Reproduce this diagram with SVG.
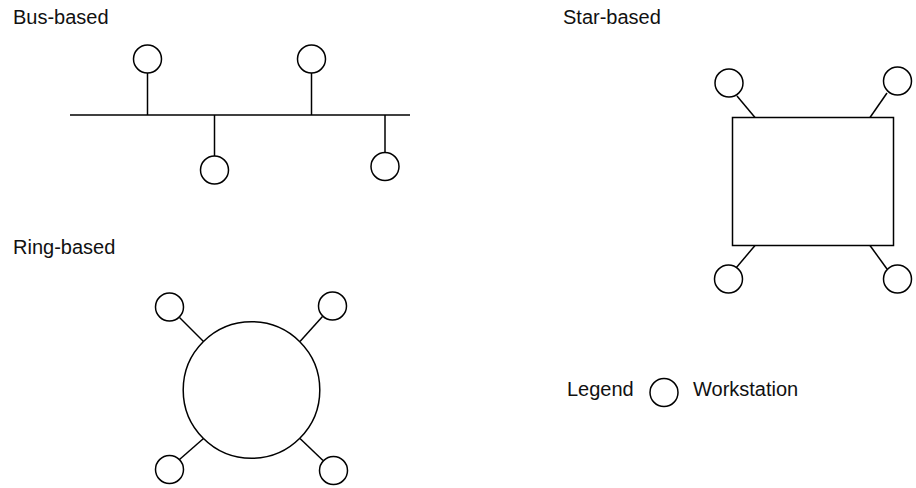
<svg xmlns="http://www.w3.org/2000/svg" width="916" height="488" viewBox="0 0 916 488">
<style>
.s{fill:none;stroke:#000;stroke-width:1.5}
.n{fill:#fff;stroke:#000;stroke-width:1.5}
.t{font-family:"Liberation Sans",Arial,sans-serif;font-size:20px;fill:#111}
</style>
<rect width="916" height="488" fill="#fff"/>
<g id="labels">
<text class="t" x="13" y="24">Bus-based</text>
<text class="t" x="13" y="254">Ring-based</text>
<text class="t" x="563" y="24">Star-based</text>
</g>
<g id="connectors">
<line class="s" x1="70" y1="115" x2="410" y2="115"/>
<line class="s" x1="147.5" y1="73" x2="147.5" y2="115"/>
<line class="s" x1="311.5" y1="73" x2="311.5" y2="115"/>
<line class="s" x1="214.5" y1="115" x2="214.5" y2="156"/>
<line class="s" x1="385" y1="115" x2="385" y2="152.5"/>
<line class="s" x1="179.5" y1="317.5" x2="203.5" y2="341.5"/>
<line class="s" x1="322.5" y1="316.5" x2="300" y2="341.5"/>
<line class="s" x1="179.5" y1="459.5" x2="203.5" y2="438.5"/>
<line class="s" x1="323" y1="460.5" x2="300" y2="438.5"/>
<line class="s" x1="737" y1="96" x2="755" y2="117.5"/>
<line class="s" x1="887" y1="93" x2="870" y2="117.5"/>
<line class="s" x1="736" y1="268" x2="755" y2="245.5"/>
<line class="s" x1="887" y1="269" x2="870" y2="245.5"/>
</g>
<g id="bus-ws1"><circle class="n" cx="147.5" cy="59" r="14"/></g>
<g id="bus-ws2"><circle class="n" cx="311.5" cy="59" r="14"/></g>
<g id="bus-ws3"><circle class="n" cx="214.5" cy="170" r="14"/></g>
<g id="bus-ws4"><circle class="n" cx="385" cy="166.5" r="14"/></g>
<g id="ring"><circle class="n" cx="251.5" cy="390" r="68.3"/></g>
<g id="ring-ws1"><circle class="n" cx="169.5" cy="307" r="14"/></g>
<g id="ring-ws2"><circle class="n" cx="332.5" cy="306" r="14"/></g>
<g id="ring-ws3"><circle class="n" cx="169.5" cy="469.5" r="14"/></g>
<g id="ring-ws4"><circle class="n" cx="333.5" cy="470.5" r="14"/></g>
<g id="star-hub"><rect class="n" x="732.5" y="117.5" width="161" height="128"/></g>
<g id="star-ws1"><circle class="n" cx="729" cy="83" r="14"/></g>
<g id="star-ws2"><circle class="n" cx="897.5" cy="81" r="14"/></g>
<g id="star-ws3"><circle class="n" cx="728.5" cy="279" r="14"/></g>
<g id="star-ws4"><circle class="n" cx="897.5" cy="279" r="14"/></g>
<g id="legend">
<text class="t" x="567" y="396">Legend</text>
<circle class="n" cx="664" cy="392.5" r="14"/>
<text class="t" x="693" y="396">Workstation</text>
</g>
</svg>
